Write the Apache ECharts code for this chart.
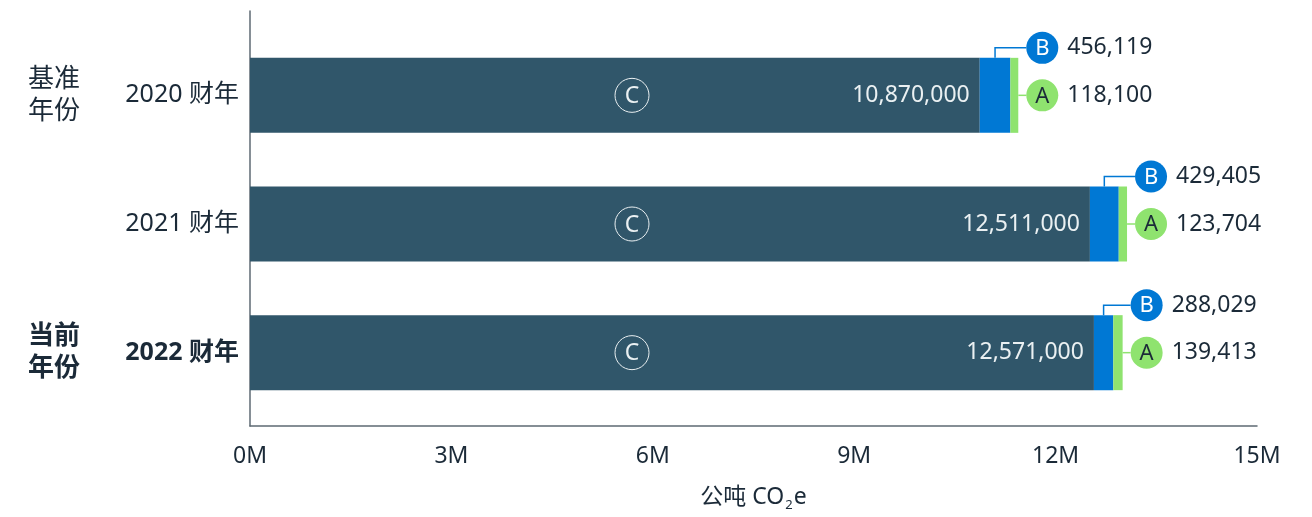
<!DOCTYPE html>
<html><head><meta charset="utf-8">
<script src="https://cdn.jsdelivr.net/npm/echarts@6/dist/echarts.min.js"></script>
<style>html,body{margin:0;padding:0;background:#fff}#c{width:1312px;height:517px}</style>
</head><body><div id="c"></div>
<script>
// ---- data ----
const categories = ['2020 财年', '2021 财年', '2022 财年'];
const groupLabels = ['基准\n年份', '', '当前\n年份'];
const boldIndex = 2;
const valuesC = [10870000, 12511000, 12571000];
const valuesB = [456119, 429405, 288029];
const valuesA = [118100, 123704, 139413];
const xTickLabels = ['0M', '3M', '6M', '9M', '12M', '15M'];
const axisName = '公吨 CO{s|2}e';

// ---- style ----
const FONT = "'Noto Sans', 'Noto Sans CJK SC', sans-serif";
const DARK = '#30566A';
const BLUE = '#0078D4';
const GREEN = '#8FE36F';
const TEXT = '#1B2A38';
const AXIS = '#5E6A73';
const BAR_W = 75;

const fmt = v => v.toLocaleString('en-US');

const chart = echarts.init(document.getElementById('c'));
const callout = categories.map((c, i) => [i, valuesC[i], valuesB[i], valuesA[i]]);

function txt(x, y, text, size, fill, align, weight) {
  return { type: 'text', x, y, style: { text, fill, align: align || 'center', verticalAlign: 'middle',
    font: (weight || 'normal') + ' ' + size + 'px ' + FONT } };
}

chart.setOption({
  animation: false,
  textStyle: { fontFamily: FONT },
  grid: [
    { left: 250, right: 55, top: 11, bottom: 91, outerBoundsMode: 'none', containLabel: false },
    { left: 250, right: 55, top: 31, bottom: 100, outerBoundsMode: 'none', containLabel: false }
  ],
  xAxis: [
    { gridIndex: 0, type: 'value', min: 0, max: 15000000, interval: 3000000,
      axisLine: { show: true, lineStyle: { color: AXIS, width: 1.5 } },
      axisTick: { show: false }, splitLine: { show: false },
      axisLabel: { margin: 19, fontSize: 23, color: TEXT, fontFamily: FONT,
        formatter: (v, idx) => xTickLabels[idx] },
      name: axisName, nameLocation: 'middle', nameGap: 57,
      nameTextStyle: { fontSize: 23, color: TEXT, fontFamily: FONT,
        rich: { s: { fontSize: 13, color: TEXT, fontFamily: FONT, verticalAlign: 'bottom', padding: [16, 1, 0, 1] } } } },
    { gridIndex: 1, type: 'value', min: 0, max: 15000000, show: false }
  ],
  yAxis: [
    { gridIndex: 0, type: 'value', min: 0, max: 1,
      axisLine: { show: true, lineStyle: { color: AXIS, width: 1.5 } },
      axisTick: { show: false }, splitLine: { show: false }, axisLabel: { show: false } },
    { gridIndex: 1, type: 'category', position: 'left', data: categories, inverse: true,
      axisLine: { show: false }, axisTick: { show: false },
      axisLabel: { margin: 11, fontSize: 25, color: TEXT, fontFamily: FONT,
        formatter: (v, idx) => idx === boldIndex ? '{b|' + v + '}' : v,
        rich: { b: { fontSize: 25, fontWeight: 'bold', color: TEXT, fontFamily: FONT } } } },
    { gridIndex: 1, type: 'category', position: 'left', data: groupLabels, inverse: true,
      axisLine: { show: false }, axisTick: { show: false },
      axisLabel: { margin: 170, fontSize: 26, lineHeight: 32, color: TEXT, fontFamily: FONT,
        formatter: (v, idx) => idx === boldIndex ? '{b|' + v.replace('\n', '}\n{b|') + '}' : v,
        rich: { b: { fontSize: 26, lineHeight: 32, fontWeight: 'bold', color: TEXT, fontFamily: FONT } } } }
  ],
  series: [
    { type: 'bar', name: 'C', xAxisIndex: 1, yAxisIndex: 1, stack: 't', barWidth: BAR_W, data: valuesC, itemStyle: { color: DARK } },
    { type: 'bar', name: 'B', xAxisIndex: 1, yAxisIndex: 1, stack: 't', barWidth: BAR_W, data: valuesB, itemStyle: { color: BLUE } },
    { type: 'bar', name: 'A', xAxisIndex: 1, yAxisIndex: 1, stack: 't', barWidth: BAR_W, data: valuesA, itemStyle: { color: GREEN } },
    { type: 'custom', xAxisIndex: 1, yAxisIndex: 1, data: callout, encode: { x: 1, y: 0 }, z: 5,
      renderItem(params, api) {
        const i = api.value(0), c = api.value(1), b = api.value(2), a = api.value(3);
        const p0 = api.coord([0, i]);
        const x0 = p0[0], yc = p0[1];
        const xC = api.coord([c, i])[0];
        const xB = api.coord([c + b, i])[0];
        const xA = api.coord([c + b + a, i])[0];
        const top = yc - BAR_W / 2;
        const r = 16;
        const cx = xA + 24;
        const yB = top - 10;
        const xm = (xC + xB) / 2;
        const cMark = x0 + 382;
        return { type: 'group', children: [
          { type: 'circle', shape: { cx: cMark, cy: yc, r: 17 }, style: { fill: 'none', stroke: '#EAF0F2', lineWidth: 1 } },
          txt(cMark, yc + 1, 'C', 23, '#EAF0F2'),
          txt(xC - 10, yc, fmt(c), 23, '#EAF0F2', 'right'),
          { type: 'polyline', shape: { points: [[xm, top], [xm, yB], [cx - r, yB]] }, style: { stroke: BLUE, lineWidth: 1.5, fill: null } },
          { type: 'line', shape: { x1: xA, y1: yc, x2: cx - r, y2: yc }, style: { stroke: GREEN, lineWidth: 1.5 } },
          { type: 'circle', shape: { cx: cx, cy: yB, r: r }, style: { fill: BLUE } },
          txt(cx, yB + 1, 'B', 22, '#FFFFFF'),
          txt(cx + r + 9, yB, fmt(b), 23, TEXT, 'left'),
          { type: 'circle', shape: { cx: cx, cy: yc, r: r }, style: { fill: GREEN } },
          txt(cx, yc + 1, 'A', 22, TEXT),
          txt(cx + r + 9, yc, fmt(a), 23, TEXT, 'left')
        ] };
      } }
  ]
});
</script></body></html>
